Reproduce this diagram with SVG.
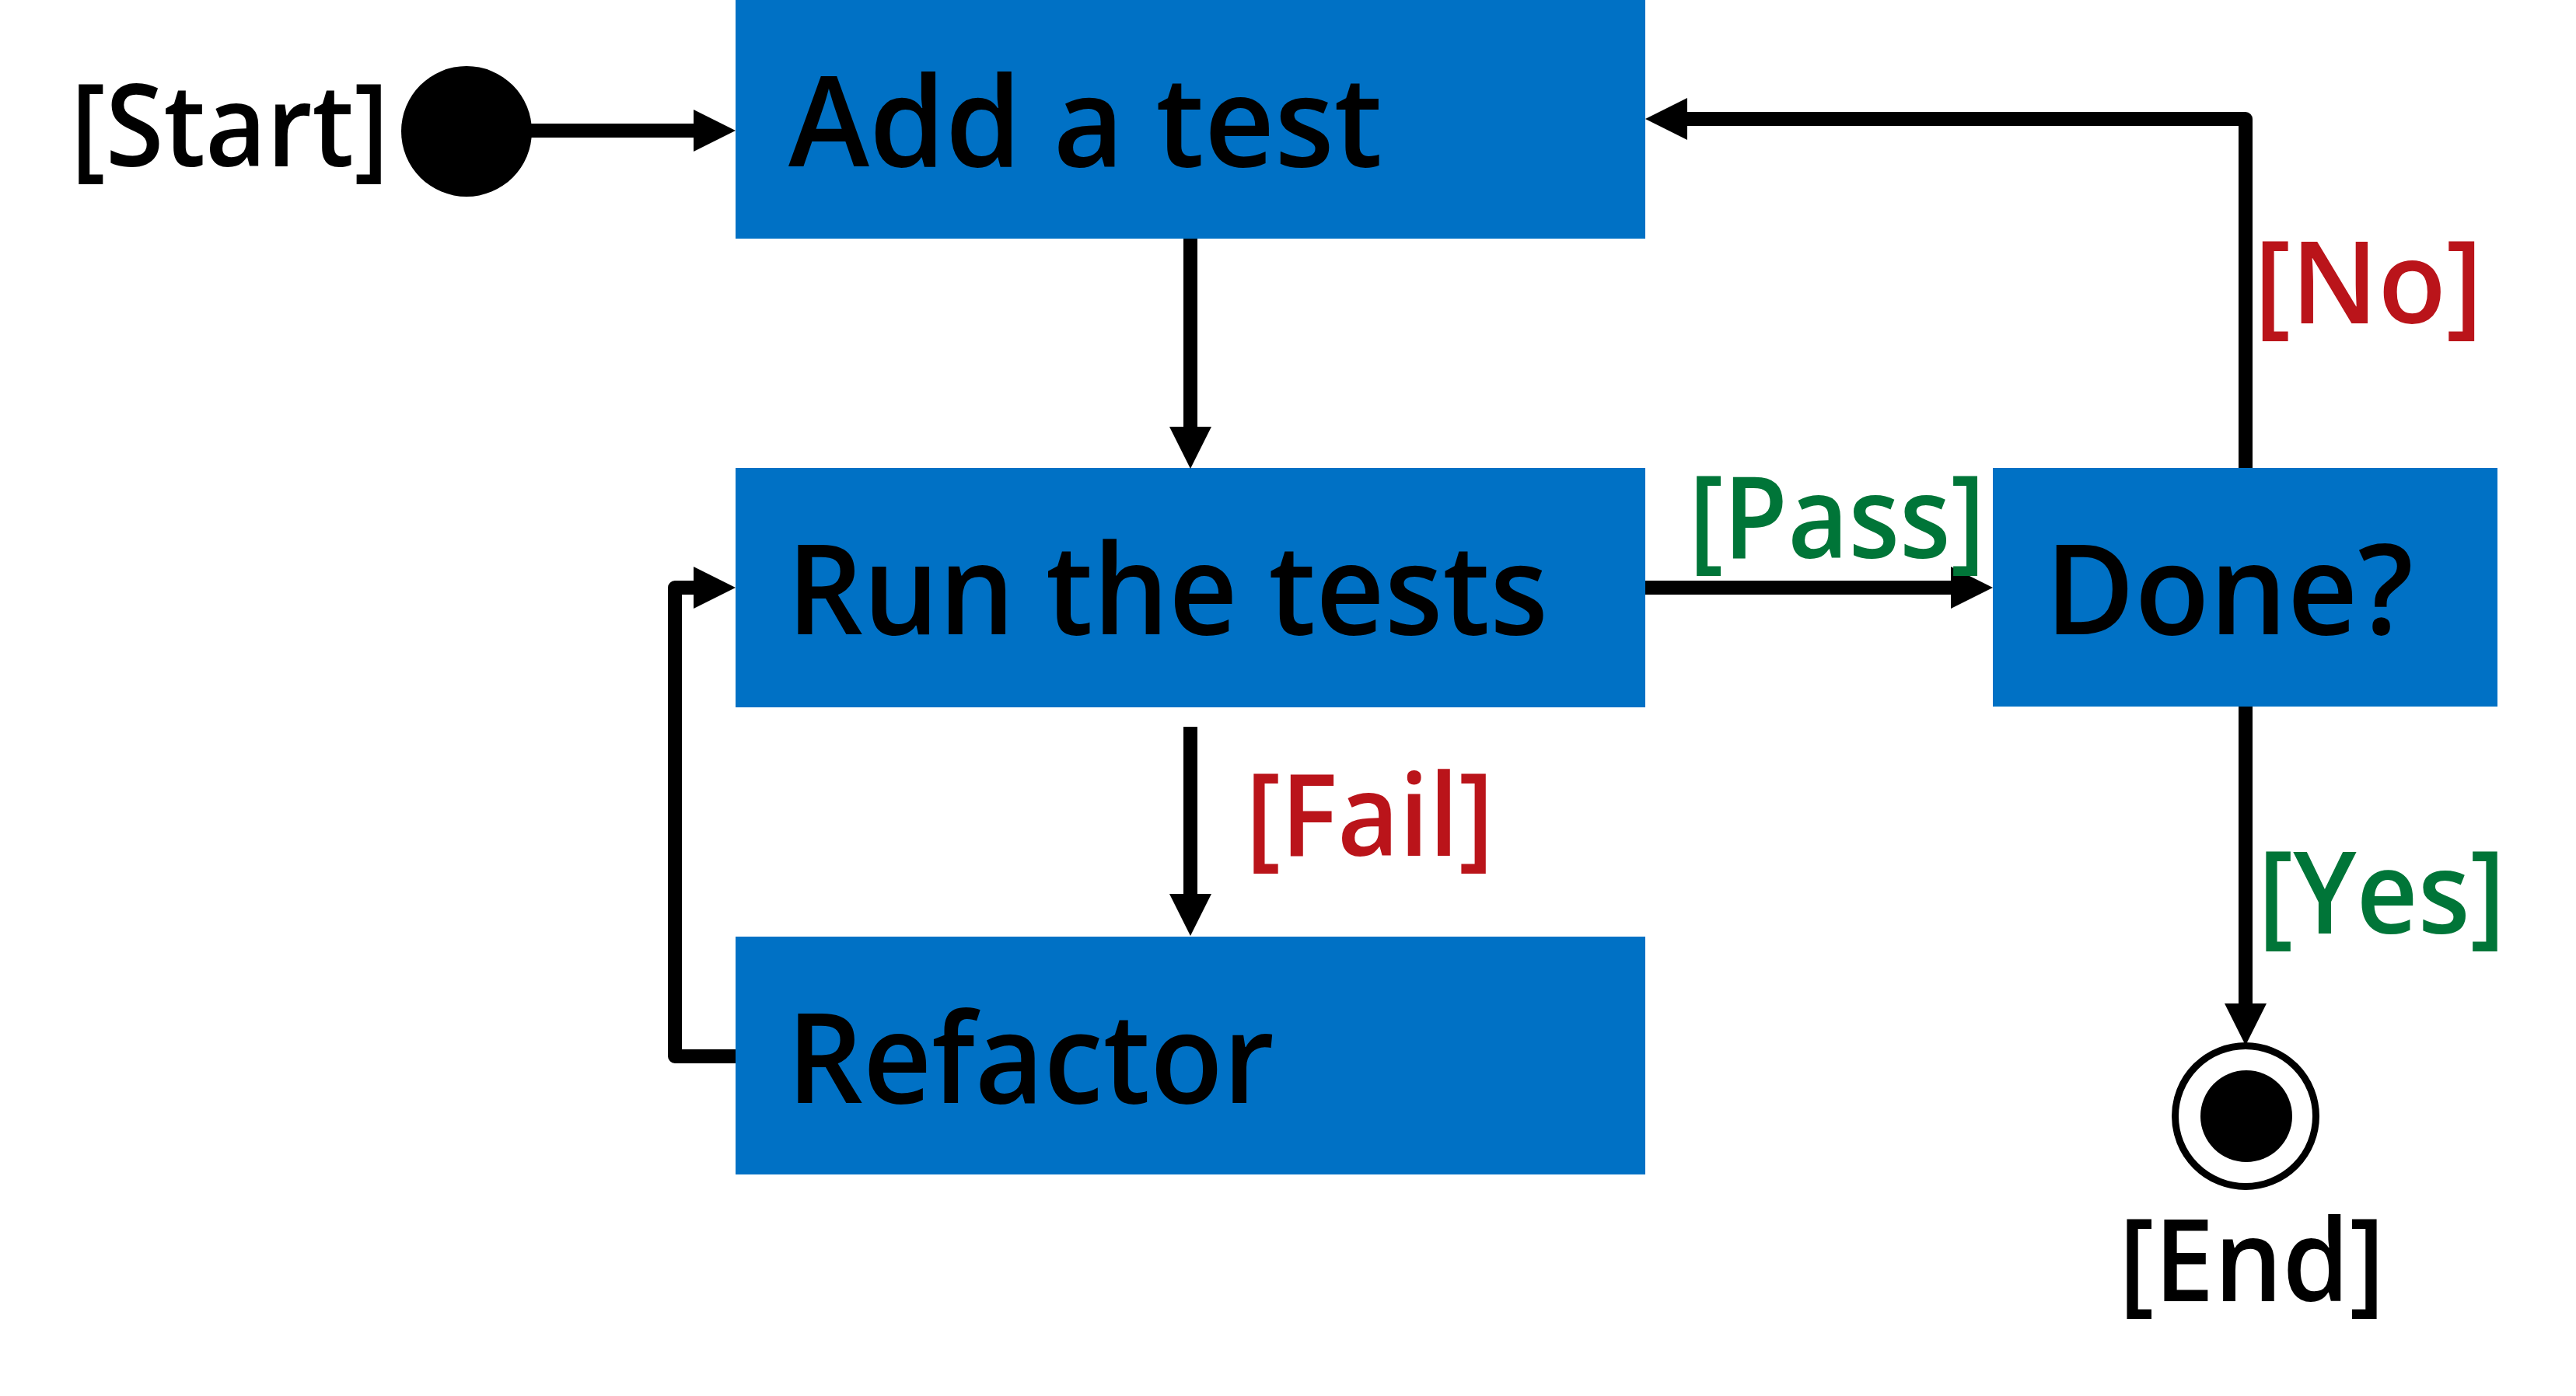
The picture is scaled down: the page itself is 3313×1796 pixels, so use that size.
<svg xmlns="http://www.w3.org/2000/svg" width="3313" height="1796" viewBox="0 0 3313 1796">
<style>
.box{fill:#0071C5}
.bt{font-family:"Open Sans","Noto Sans","Liberation Sans",sans-serif;font-weight:600;font-size:162px;fill:#000}
.lb{font-family:"Open Sans","Noto Sans","Liberation Sans",sans-serif;font-weight:600;font-size:146px}
.red{fill:#BA141A}
.green{fill:#007538}
.blk{fill:#000}
.con{fill:none;stroke:#000;stroke-width:18;stroke-linejoin:round}
</style>
<defs>
<marker id="ah" markerUnits="userSpaceOnUse" markerWidth="56" markerHeight="56" viewBox="0 0 56 56" refX="1" refY="28" orient="auto">
<path d="M0,1 L54,28 L0,55 Z" fill="#000"/>
</marker>
</defs>
<rect width="3313" height="1796" fill="#fff"/>
<g id="start">
<circle cx="600" cy="169" r="84" fill="#000"/>
<text class="lb blk" x="91" y="214" textLength="409" lengthAdjust="spacingAndGlyphs">[Start]</text>
</g>
<g id="add">
<rect class="box" x="946" y="0" width="1170" height="307"/>
<text class="bt" x="1014" y="214" textLength="764" lengthAdjust="spacingAndGlyphs">Add a test</text>
</g>
<g id="run">
<rect class="box" x="946" y="602" width="1170" height="308"/>
<text class="bt" x="1012" y="816" textLength="979" lengthAdjust="spacingAndGlyphs">Run the tests</text>
</g>
<g id="refactor">
<rect class="box" x="946" y="1205" width="1170" height="306"/>
<text class="bt" x="1012" y="1419" textLength="627" lengthAdjust="spacingAndGlyphs">Refactor</text>
</g>
<g id="done">
<rect class="box" x="2563" y="602" width="649" height="307"/>
<text class="bt" x="2630" y="816" textLength="474" lengthAdjust="spacingAndGlyphs">Done?</text>
</g>
<g id="end">
<circle cx="2888" cy="1436" r="90.5" fill="#fff" stroke="#000" stroke-width="9"/>
<circle cx="2889" cy="1436" r="59" fill="#000"/>
<text class="lb blk" x="2725" y="1674" textLength="342" lengthAdjust="spacingAndGlyphs">[End]</text>
</g>
<g id="connectors">
<path class="con" d="M683 168 H893" marker-end="url(#ah)"/>
<path class="con" d="M1531 307 V550" marker-end="url(#ah)"/>
<path class="con" d="M2116 756 H2510" marker-end="url(#ah)"/>
<path class="con" d="M2888 602 V153 H2169" marker-end="url(#ah)"/>
<path class="con" d="M1531 935 V1151" marker-end="url(#ah)"/>
<path class="con" d="M946 1359 H868 V756 H893" marker-end="url(#ah)"/>
<path class="con" d="M2888 909 V1292" marker-end="url(#ah)"/>
<text class="lb green" x="2172" y="718" textLength="381" lengthAdjust="spacingAndGlyphs">[Pass]</text>
<text class="lb red" x="2899" y="416" textLength="294" lengthAdjust="spacingAndGlyphs">[No]</text>
<text class="lb red" x="1602" y="1101" textLength="319" lengthAdjust="spacingAndGlyphs">[Fail]</text>
<text class="lb green" x="2904" y="1201" textLength="318" lengthAdjust="spacingAndGlyphs">[Yes]</text>
</g>
</svg>
